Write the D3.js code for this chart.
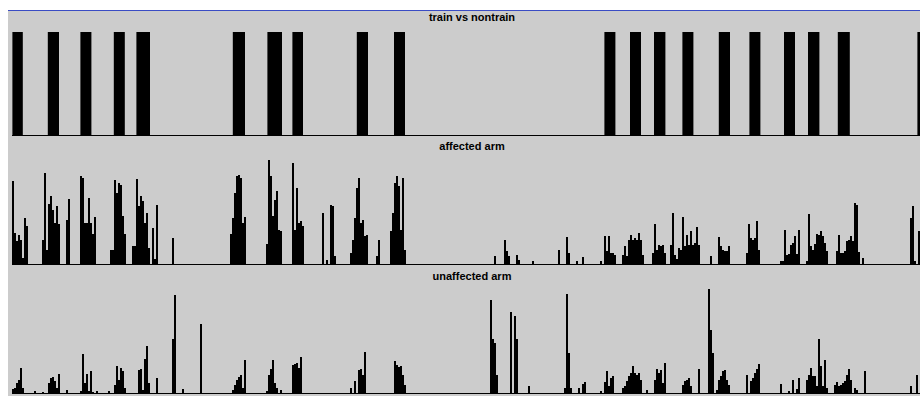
<!DOCTYPE html>
<html>
<head>
<meta charset="utf-8">
<script src="https://cdn.jsdelivr.net/npm/d3@7"></script>
<style>
  body { margin: 0; background: #fff; }
  .title { font-family: "Liberation Sans", Arial, sans-serif; font-size: 11px; font-weight: bold; fill: #000; }
</style>
</head>
<body>
<script>
// Panel titles, top to bottom.
const titles = ["train vs nontrain", "affected arm", "unaffected arm"];

// Training periods as [start, end] in samples.
const trainSegments = [
  [0.2, 5.4], [17.9, 23.5], [34.2, 39.7], [50.9, 56.4], [62.2, 69],
  [110.4, 116.5], [127.7, 135], [140.2, 145.5], [172.4, 178], [191, 196.5],
  [296.2, 301.7], [309, 314.5], [321, 326.7], [335.2, 340.7], [353.4, 359],
  [368.7, 374.2], [386, 391.5], [398, 403.7], [412.9, 418.9], [452.7, 460]
];

// Activity counts, stored as bursts: [first sample, values...]. Samples outside bursts are 0.
const affectedBursts = [
  [0, [83, 31, 23, 29, 24, 6, 46, 38]],
  [15, [24, 91, 14, 60, 68, 54, 41, 58, 40]],
  [27, [44, 65]],
  [34, [88, 86, 41, 41, 66, 41, 30, 47]],
  [49, [14, 14, 84, 71, 81, 79, 48, 30]],
  [60, [18, 18, 85, 58, 68, 63, 41, 51, 16, 0, 36, 5, 59]],
  [80, [26]],
  [109, [30, 46, 71, 88, 89, 86, 41, 47]],
  [127, [20, 104, 88, 48, 64, 73, 34, 33]],
  [140, [101, 34, 76, 41, 43, 38]],
  [155, [51, 0, 4, 0, 59, 58, 8]],
  [169, [11, 24, 46, 76, 86, 41, 44, 28, 29]],
  [182, [8, 24]],
  [189, [33, 51, 81, 88, 78, 34, 86, 14]],
  [241, [8]],
  [246, [24, 13, 8]],
  [252, [9, 4]],
  [260, [3]],
  [273, [14]],
  [277, [27, 11]],
  [282, [3]],
  [285, [7]],
  [294, [3, 0, 28, 13, 28, 11, 11, 9]],
  [305, [9, 18, 8, 24, 29, 24, 26, 24, 31, 24, 9]],
  [320, [11, 40, 14, 19, 18, 19, 11]],
  [329, [19, 51, 9, 5, 16, 14, 47, 18, 29, 19, 33, 19, 21, 37, 19]],
  [349, [8]],
  [353, [27, 18, 14, 13, 13, 18]],
  [367, [11, 40, 26, 24, 26, 43, 14]],
  [384, [3, 3, 34, 9, 10, 19, 21, 28, 10, 34]],
  [397, [3, 50, 18, 14, 20, 30, 29, 33, 28, 21, 13]],
  [412, [13, 29, 11, 11, 13, 23, 24, 28, 23, 61, 59, 12]],
  [425, [6]],
  [449, [46, 58, 3, 0, 33]]
];

const unaffectedBursts = [
  [0, [4, 5, 10, 13, 25, 5]],
  [11, [2]],
  [15, [1]],
  [18, [10, 15, 16, 12, 5, 19]],
  [27, [3]],
  [34, [2, 39, 10, 19, 2, 22, 1]],
  [42, [2]],
  [48, [2]],
  [51, [8, 27, 13, 25, 22, 5]],
  [63, [23, 24, 3, 34, 47, 10]],
  [72, [15]],
  [80, [54, 98]],
  [85, [4]],
  [94, [69]],
  [110, [3, 8, 13, 16, 18, 5, 33]],
  [127, [2, 18, 24, 33, 10, 5, 0, 3]],
  [140, [28, 29, 30, 25, 36]],
  [169, [5, 0, 12, 0, 23, 24, 18, 41]],
  [191, [32, 28, 26, 27, 18, 8]],
  [239, [93, 54, 50, 18]],
  [249, [81, 0, 77, 54]],
  [258, [7]],
  [276, [5, 99, 40, 5]],
  [283, [5, 0, 9, 11]],
  [294, [2, 0, 11, 22, 7, 15, 17]],
  [305, [5, 7, 12, 17, 20, 27, 20, 18, 20, 13]],
  [317, [3]],
  [321, [13, 24, 20, 23, 10, 30]],
  [335, [8, 12, 13, 15, 7]],
  [343, [24]],
  [348, [104, 63, 40]],
  [352, [3, 13, 17, 22, 23, 13, 8]],
  [367, [18, 0, 12, 15, 20, 24, 29]],
  [384, [9]],
  [388, [2]],
  [390, [13]],
  [392, [4, 15]],
  [397, [13, 18, 25, 17, 17, 7, 54, 27, 7, 33, 5]],
  [411, [8, 11, 7, 8, 10, 12, 18, 24, 13]],
  [421, [5, 3]],
  [426, [22]],
  [449, [7]],
  [452, [18]]
];

// Chart dimensions.
const width = 920;
const height = 396;
const frame = { left: 8, top: 10 };
const plotLeft = 12;
const plotRight = 932;   // plot runs past the window edge
const baselines = [135, 264, 393];
const titleY = [21, 150, 280];

const svg = d3.select("body").append("svg")
  .attr("width", width)
  .attr("height", height);

// Background and blue top rule.
svg.append("rect")
  .attr("x", frame.left).attr("y", frame.top)
  .attr("width", width - frame.left).attr("height", height - frame.top)
  .attr("fill", "#cccccc");
svg.append("line")
  .attr("x1", frame.left).attr("x2", width)
  .attr("y1", frame.top + 0.5).attr("y2", frame.top + 0.5)
  .attr("stroke", "#3a4cc4");

const x = d3.scaleLinear().domain([0, 460]).range([plotLeft, plotRight]);

function expand(bursts) {
  return bursts.flatMap(([start, vals]) => vals.map((v, k) => ({ i: start + k, v })))
    .filter(d => d.v > 0);
}

// Train vs nontrain
const yTrain = d3.scaleLinear().domain([0, 1]).range([baselines[0], 32]);
svg.append("g").selectAll("rect")
  .data(trainSegments)
  .enter()
  .append("rect")
  .attr("x", d => x(d[0]))
  .attr("width", d => x(d[1]) - x(d[0]))
  .attr("y", yTrain(1))
  .attr("height", yTrain(0) - yTrain(1))
  .attr("fill", "#000");

// Arm activity panels
function renderActivity(bursts, base) {
  const y = d3.scaleLinear().domain([0, 110]).range([base, base - 110]);
  svg.append("g").selectAll("rect")
    .data(expand(bursts))
    .enter()
    .append("rect")
    .attr("x", d => x(d.i))
    .attr("width", d => x(d.i + 1) - x(d.i))
    .attr("y", d => y(d.v))
    .attr("height", d => y(0) - y(d.v))
    .attr("fill", "#000");
}
renderActivity(affectedBursts, baselines[1]);
renderActivity(unaffectedBursts, baselines[2]);

// Baselines and titles
baselines.forEach((b, k) => {
  svg.append("line")
    .attr("x1", plotLeft).attr("x2", width)
    .attr("y1", b + 0.5).attr("y2", b + 0.5)
    .attr("stroke", "#000");
  svg.append("text")
    .attr("class", "title")
    .attr("x", (plotLeft + plotRight) / 2)
    .attr("y", titleY[k])
    .attr("text-anchor", "middle")
    .text(titles[k]);
});
</script>
</body>
</html>
